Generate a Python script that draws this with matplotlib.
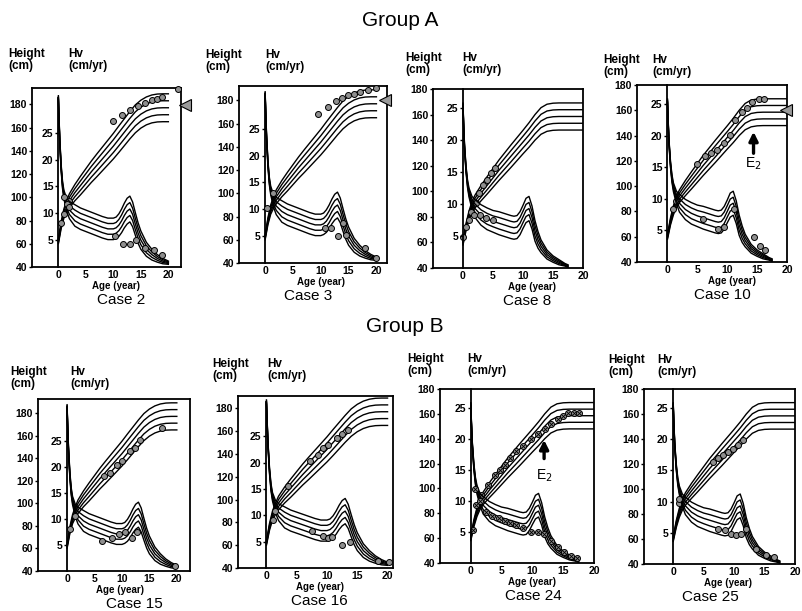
import matplotlib
matplotlib.use('Agg')
import matplotlib.pyplot as plt
import numpy as np

plt.rcParams['font.family'] = ['Liberation Sans', 'DejaVu Sans']

W, H = 802, 611

# reference growth curves (mean and SD, drawn at -2..+2 SD)
AGE_H = [0, 0.5, 1, 1.5, 2, 3, 4, 5, 6, 7, 8, 9, 10, 11, 12, 13, 14, 15, 16, 17, 18, 19, 20]
BOY_H_MEAN = [62, 76, 86, 92, 97, 104, 110, 116, 122, 127.5, 133, 138.5, 144, 150, 156, 162,
              167.5, 171.5, 174.3, 176, 176.8, 177, 177]
BOY_H_SD = [1, 1.5, 2, 2.5, 3, 3.5, 4, 4.3, 4.6, 4.9, 5.1, 5.3, 5.5, 5.7, 5.8, 5.9, 6, 6, 6, 6, 6, 6, 6]
GIRL_H_MEAN = [60, 72, 81, 87.5, 92, 98.5, 104.5, 110.5, 116.5, 122, 127.5, 133, 138.5, 144, 150,
               155, 157.5, 158.3, 158.5, 158.5, 158.5, 158.5, 158.5]
GIRL_H_SD = [1, 1.4, 1.8, 2.2, 2.5, 3, 3.4, 3.7, 4, 4.2, 4.4, 4.5, 4.6, 4.8, 5, 5.2, 5.3, 5.3, 5.3,
             5.3, 5.3, 5.3, 5.3]

BOY_AGE_V = [0, 0.1, 0.25, 0.5, 0.75, 1, 1.5, 2, 3, 4, 5, 6, 7, 8, 9, 10, 10.5, 11, 11.5, 12, 12.5,
             13, 13.5, 14, 14.5, 15, 16, 17, 18, 19, 20]
BOY_V_MEAN = [31.5, 28, 23.5, 18.5, 15.3, 13.5, 11.6, 10.6, 9.6, 9.0, 8.6, 8.2, 7.8, 7.4, 7.1, 7.1,
              7.3, 7.8, 8.6, 9.6, 10.4, 10.8, 9.8, 8.0, 6.3, 5.0, 3.3, 2.3, 1.6, 1.1, 0.8]
BOY_V_SD = [0.2, 0.2, 0.25, 0.3, 0.35, 0.4, 0.6, 0.8, 1.0, 1.0, 1.0, 1.0, 1.0, 1.0, 1.0, 1.0, 1.0,
            1.05, 1.1, 1.15, 1.2, 1.2, 1.15, 1.05, 0.95, 0.85, 0.65, 0.5, 0.35, 0.25, 0.15]
GIRL_AGE_V = [0, 0.1, 0.25, 0.5, 0.75, 1, 1.5, 2, 3, 4, 5, 6, 7, 8, 8.5, 9, 9.5, 10, 10.5, 11, 11.5,
              12, 12.5, 13, 14, 15, 16, 17, 17.5]
GIRL_V_MEAN = [25.5, 22.5, 19, 15.5, 13.2, 11.8, 10.2, 9.3, 8.3, 7.7, 7.3, 7.0, 6.7, 6.4, 6.3, 6.4,
               7.0, 8.0, 9.0, 9.3, 7.9, 5.8, 4.4, 3.4, 2.1, 1.4, 0.9, 0.5, 0.3]
GIRL_V_SD = [0.15, 0.15, 0.2, 0.25, 0.3, 0.35, 0.5, 0.7, 0.8, 0.85, 0.85, 0.9, 0.9, 0.9, 0.9, 0.9,
             0.9, 0.9, 0.95, 0.95, 0.9, 0.8, 0.65, 0.5, 0.35, 0.25, 0.2, 0.1, 0.1]

# measured points per case
C2_H_AGE = [0.5, 1.0, 1.5, 2.0, 10.0, 11.5, 13.0, 14.4, 15.8, 17.0, 17.9, 18.8, 21.8]
C2_H = [78, 86, 92, 97, 166, 170.5, 175, 178.5, 181.5, 183.5, 184.5, 186, 193]
C2_V_AGE = [1.0, 1.5, 2.0, 10.3, 11.8, 13.0, 14.2, 15.8, 17.3, 18.8]
C2_V = [13.0, 11.8, 11.2, 5.7, 4.2, 4.2, 5.1, 3.5, 3.2, 2.3]

C3_H_AGE = [9.55, 11.3, 12.7, 13.9, 14.9, 15.9, 17.0, 18.4, 20.0]
C3_H = [168, 174.3, 179.1, 182.3, 184.3, 185.7, 187.2, 188.6, 190.6]
C3_V_AGE = [0.3, 1.5, 10.7, 11.9, 13.1, 14.0, 14.6, 17.9, 20.0]
C3_V = [10.2, 13.0, 6.5, 6.5, 5.0, 7.4, 5.3, 2.8, 1.0]

C8_H_AGE = [0.0, 0.55, 1.0, 1.55, 2.1, 2.75, 3.3, 4.0, 4.7, 5.4]
C8_H = [64.3, 72.2, 77.4, 82.7, 90.5, 98.4, 104.9, 108.8, 114.1, 118]
C8_V_AGE = [1.4, 1.9, 2.8, 3.9, 5.0]
C8_V = [8.8, 8.3, 8.3, 7.8, 7.5]

C10_H_AGE = [1.0, 1.5, 4.9, 6.3, 7.3, 8.3, 9.4, 10.5, 11.3, 12.5, 13.3, 14.1, 15.25, 16.1]
C10_H = [82, 88, 117.4, 123.7, 125.9, 128.5, 133.8, 140.4, 152.3, 158.9, 161.5, 166.8, 168.6, 168.6]
C10_V_AGE = [6.0, 8.5, 9.4, 11.1, 14.4, 15.5, 16.4]
C10_V = [6.8, 5.2, 5.5, 8.4, 3.9, 2.6, 1.9]

C15_H_AGE = [6.7, 7.9, 9.1, 10.0, 11.5, 12.4, 13.3, 17.3]
C15_H = [123.8, 126.8, 134.2, 137.1, 146, 148.9, 156.3, 166.7]
C15_V_AGE = [0.6, 1.5, 6.4, 8.2, 9.4, 10.6, 11.8, 12.7, 19.7]
C15_V = [8.0, 10.6, 5.8, 6.4, 7.05, 7.4, 6.4, 7.4, 1.0]

C16_H_AGE = [1.1, 3.6, 7.2, 8.5, 9.4, 10.2, 11.6, 12.5, 13.5]
C16_H = [82.3, 111.5, 133.4, 139, 145, 148, 153.8, 157.5, 161]
C16_V_AGE = [1.4, 7.5, 9.4, 10.2, 10.8, 12.4, 13.8, 18.5, 20.2]
C16_V = [10.8, 7.1, 6.1, 5.7, 5.8, 4.4, 4.9, 1.4, 1.1]

C24_H_AGE = [0.4, 0.9, 1.7, 2.8, 3.9, 4.7, 5.5, 6.3, 7.4, 8.4, 9.8, 10.9, 12.0, 13.0, 14.1, 14.9,
             15.7, 16.8, 17.6]
C24_H = [66.9, 87, 95, 103, 111, 115, 119, 124.6, 130, 134, 139.4, 143.5, 147.5, 151.5, 155.5,
         158.2, 161, 161, 161]
C24_V_AGE = [0.65, 1.45, 2.5, 3.5, 4.5, 5.5, 6.3, 7.4, 8.4, 9.8, 10.9, 11.9, 13.0, 14.1, 15.2, 16.2, 17.3]
C24_V = [11.9, 10.0, 8.2, 7.6, 7.2, 6.8, 6.4, 6.1, 5.6, 5.0, 5.0, 4.7, 3.6, 2.5, 1.7, 1.1, 0.8]

C25_H_AGE = [1.0, 6.6, 7.4, 8.2, 9.0, 9.8, 10.6, 11.4]
C25_H = [88.6, 122, 124.7, 127.4, 130, 132, 135.4, 139.4]
C25_V_AGE = [1.0, 7.4, 8.5, 9.5, 10.3, 11.2, 12.0, 13.6, 15.2, 16.5]
C25_V = [10.4, 5.6, 5.4, 4.8, 4.6, 4.8, 5.6, 2.4, 1.4, 1.1]

# target height triangles and E2 arrows (x, tip, tail, label height)
TARGETS = {'Case 2': (23.0, 179), 'Case 3': (21.5, 180), 'Case 10': (19.8, 160)}
E2_ARROWS = {'Case 10': (14.4, 143, 126, 118), 'Case 24': (11.9, 139, 124, 110)}

# name, sex, box left/right/top/bottom (px), xlim, height top, label pixels
PANELS = [
    ('Case 2', 'boy', 32, 181, 88, 267, -4.8, 22.3, 194, 8, 68, 72, 116, 121, C2_H_AGE, C2_H, C2_V_AGE, C2_V),
    ('Case 3', 'boy', 239, 387, 86, 263, -4.7, 21.9, 192.3, 205, 265, 73, 321, 308, C3_H_AGE, C3_H, C3_V_AGE, C3_V),
    ('Case 8', 'girl', 433, 583, 89, 268, -5.0, 19.9, 180, 405, 462, 76, 532, 527, C8_H_AGE, C8_H, C8_V_AGE, C8_V),
    ('Case 10', 'girl', 637, 787, 85, 262, -5.1, 20.0, 180, 603, 652, 78, 732, 722, C10_H_AGE, C10_H, C10_V_AGE, C10_V),
    ('Case 15', 'boy', 38, 190, 399, 571, -5.3, 22.4, 192.4, 10, 70, 390, 120, 134, C15_H_AGE, C15_H, C15_V_AGE, C15_V),
    ('Case 16', 'boy', 238, 393, 396, 568, -4.7, 20.9, 190.8, 212, 267, 382, 320, 319, C16_H_AGE, C16_H, C16_V_AGE, C16_V),
    ('Case 24', 'girl', 440, 594, 389, 563, -5.0, 19.9, 180, 407, 467, 377, 532, 533, C24_H_AGE, C24_H, C24_V_AGE, C24_V),
    ('Case 25', 'girl', 644, 795, 389, 564, -4.8, 20.0, 180, 608, 657, 378, 728, 710, C25_H_AGE, C25_H, C25_V_AGE, C25_V),
]

fig = plt.figure(figsize=(W / 100, H / 100), dpi=100)


def fx(x):
    return x / W


def fy(y):
    return 1 - y / H


for (name, sex, L, R, T, B, xlo, xhi, htop, hx, vx, laby, agex, casex,
     h_age, h_val, v_age, v_val) in PANELS:
    if sex == 'boy':
        hm, hs = np.array(BOY_H_MEAN), np.array(BOY_H_SD)
        va, vm, vs = np.array(BOY_AGE_V), np.array(BOY_V_MEAN), np.array(BOY_V_SD)
        cm_per_hv = 4.62
    else:
        hm, hs = np.array(GIRL_H_MEAN), np.array(GIRL_H_SD)
        va, vm, vs = np.array(GIRL_AGE_V), np.array(GIRL_V_MEAN), np.array(GIRL_V_SD)
        cm_per_hv = 5.0
    hv_top = (htop - 40) / cm_per_hv

    ax = fig.add_axes([fx(L), fy(B), (R - L) / W, (B - T) / H])
    ax.set_xlim(xlo, xhi)
    ax.set_ylim(40, htop)
    for k in (-2, -1, 0, 1, 2):
        ax.plot(AGE_H, hm + k * hs, color='k', lw=1.0)
    ax.set_yticks(range(40, 181, 20))
    ax.set_xticks([0, 5, 10, 15, 20])
    ax.tick_params(axis='y', direction='out', length=2.5, width=1, labelsize=7.5, pad=1)
    ax.tick_params(axis='x', length=0, labelsize=7.5, pad=2)
    for lab in ax.get_xticklabels() + ax.get_yticklabels():
        lab.set_fontweight('bold')
    for sp in ax.spines.values():
        sp.set_linewidth(1.3)

    ax2 = ax.twinx()
    ax2.set_ylim(0, hv_top)
    for s in ('right', 'top', 'bottom'):
        ax2.spines[s].set_visible(False)
    ax2.spines['left'].set_position(('data', 0))
    ax2.spines['left'].set_linewidth(1.3)
    if sex == 'boy':
        ax2.spines['left'].set_bounds(0, vm[0])
    ax2.yaxis.tick_left()
    ax2.set_yticks([5, 10, 15, 20, 25])
    ax2.tick_params(axis='y', direction='out', length=2.5, width=1, labelsize=7.5, pad=1)
    for lab in ax2.get_yticklabels():
        lab.set_fontweight('bold')
    for k in (-2, -1, 0, 1, 2):
        ax2.plot(va, vm + k * vs, color='k', lw=1.0)

    ax.plot(h_age, h_val, 'o', ms=4.3, mfc='#8f8f8f', mec='k', mew=0.7, clip_on=False, zorder=5)
    ax2.plot(v_age, v_val, 'o', ms=4.3, mfc='#8f8f8f', mec='k', mew=0.7, clip_on=False, zorder=5)
    if name == 'Case 24':
        ax.plot(h_age, h_val, 'x', ms=3, mec='k', mew=0.6, zorder=6)
        ax2.plot(v_age, v_val, 'x', ms=3, mec='k', mew=0.6, zorder=6)

    if name in TARGETS:
        tx, ty = TARGETS[name]
        ax.plot([tx], [ty], '<', ms=9, mfc='#9a9a9a', mec='k', mew=0.8, clip_on=False, zorder=6)
    if name in E2_ARROWS:
        ex, tip, tail, ly = E2_ARROWS[name]
        ax2.annotate('', xy=(ex, (tip - 40) / cm_per_hv), xytext=(ex, (tail - 40) / cm_per_hv),
                     arrowprops=dict(arrowstyle='-|>', color='k', lw=2.4, mutation_scale=13,
                                     shrinkA=0, shrinkB=0))
        ax.text(ex, ly, 'E$_2$', ha='center', va='center', fontsize=10)

    fig.text(fx(hx), fy(laby), 'Height\n(cm)', ha='left', va='bottom', fontsize=8.5,
             fontweight='bold', linespacing=0.95)
    fig.text(fx(vx), fy(laby), 'Hv\n(cm/yr)', ha='left', va='bottom', fontsize=8.5,
             fontweight='bold', linespacing=0.95)
    fig.text(fx(agex), fy(B + 19), 'Age (year)', ha='center', va='center', fontsize=7,
             fontweight='bold')
    fig.text(fx(casex), fy(B + 33), name, ha='center', va='center', fontsize=11)

fig.text(fx(400), fy(21), 'Group A', ha='center', va='center', fontsize=15)
fig.text(fx(405), fy(327), 'Group B', ha='center', va='center', fontsize=15)

fig.savefig('out.png', dpi=100, facecolor='white')
